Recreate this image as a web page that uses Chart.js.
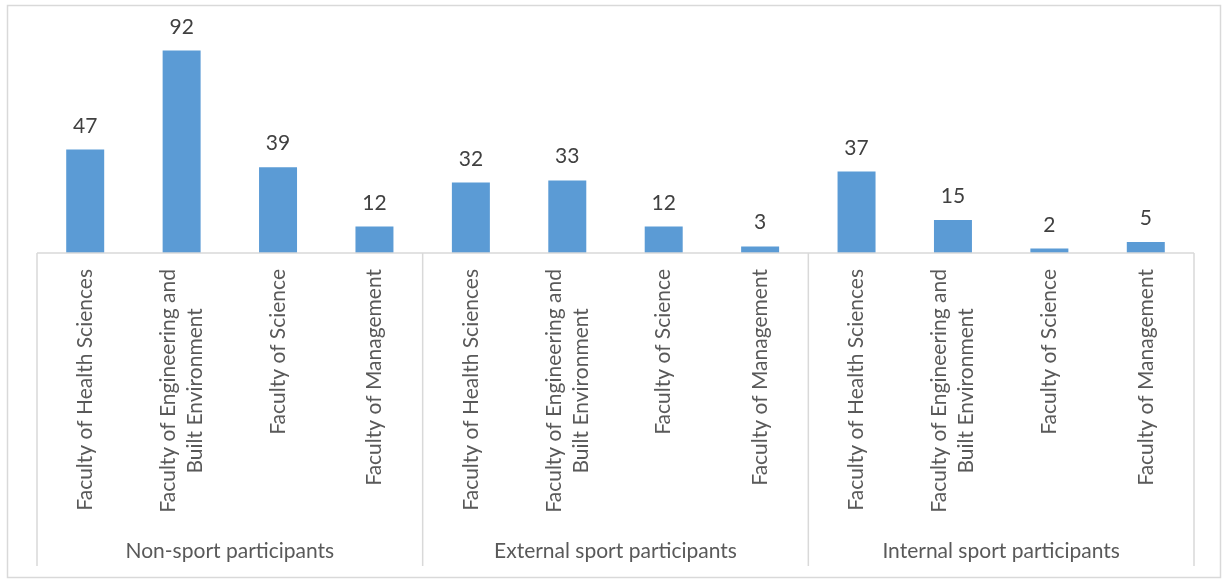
<!DOCTYPE html>
<html>
<head>
<meta charset="utf-8">
<script src="https://cdn.jsdelivr.net/npm/chart.js@4/dist/chart.umd.min.js"></script>
<style>
  html, body { margin: 0; padding: 0; background: #fff; }
  canvas { display: block; }
</style>
</head>
<body>
<canvas id="myChart" width="1225" height="579"></canvas>
<script>
const groups = ['Non-sport participants', 'External sport participants', 'Internal sport participants']
const faculties = [
  ['Faculty of Health Sciences'],
  ['Faculty of Engineering and', 'Built Environment'],
  ['Faculty of Science'],
  ['Faculty of Management']
]
const nonSport = [47, 92, 39, 12]
const externalSport = [32, 33, 12, 3]
const internalSport = [37, 15, 2, 5]

const groupValues = [nonSport, externalSport, internalSport]
const labels = []
const values = []
groupValues.forEach(vals => {
  vals.forEach((v, i) => {
    labels.push(faculties[i])
    values.push(v)
  })
})

const FONT = 'Lato, "Noto Sans", sans-serif'
const TEXT_SIZE = 21

// axis line, group separators, value labels and the two rows of category text
const excelAxis = {
  id: 'excelAxis',
  afterDraw(chart) {
    const { ctx, chartArea } = chart
    const x = chart.scales.x
    const meta = chart.getDatasetMeta(0)
    ctx.save()

    // chart border
    ctx.strokeStyle = '#d9d9d9'
    ctx.lineWidth = 1.5
    ctx.strokeRect(7.5, 5.5, 1213, 572)

    // category axis line + separators
    ctx.beginPath()
    ctx.moveTo(chartArea.left, chartArea.bottom)
    ctx.lineTo(chartArea.right, chartArea.bottom)
    const groupW = (chartArea.right - chartArea.left) / groups.length
    for (let g = 0; g <= groups.length; g++) {
      const gx = chartArea.left + g * groupW
      ctx.moveTo(gx, chartArea.bottom)
      ctx.lineTo(gx, 566)
    }
    ctx.stroke()

    // value labels
    ctx.font = TEXT_SIZE + 'px ' + FONT
    ctx.fillStyle = '#404040'
    ctx.textAlign = 'center'
    ctx.textBaseline = 'alphabetic'
    meta.data.forEach((bar, i) => {
      ctx.fillText(String(values[i]), bar.x, bar.y - 17)
    })

    // rotated faculty names
    ctx.fillStyle = '#595959'
    const lineH = 27
    const topY = 269
    labels.forEach((lines, i) => {
      const cx = x.getPixelForValue(i)
      const w = Math.max(...lines.map(l => ctx.measureText(l).width))
      ctx.save()
      ctx.translate(cx, topY + w / 2)
      ctx.rotate(-Math.PI / 2)
      ctx.textAlign = 'center'
      ctx.textBaseline = 'middle'
      lines.forEach((l, j) => {
        ctx.fillText(l, 0, (j - (lines.length - 1) / 2) * lineH)
      })
      ctx.restore()
    })

    // group names
    ctx.textAlign = 'center'
    ctx.textBaseline = 'middle'
    groups.forEach((g, k) => {
      ctx.fillText(g, chartArea.left + (k + 0.5) * groupW, 551)
    })

    ctx.restore()
  }
}

let ctx = document.querySelector('#myChart').getContext('2d')
let myChart = new Chart(ctx, {
  type: 'bar',
  data: {
    labels: labels,
    datasets: [{
      data: values,
      backgroundColor: '#5b9bd5',
      borderWidth: 0,
      categoryPercentage: 1,
      barPercentage: 0.394
    }]
  },
  options: {
    responsive: false,
    animation: false,
    layout: { padding: { left: 37, right: 31, top: 33, bottom: 326 } },
    plugins: { legend: { display: false }, tooltip: { enabled: false } },
    scales: {
      x: { display: false },
      y: { display: false, min: 0, max: 100 }
    }
  },
  plugins: [excelAxis]
})
</script>
</body>
</html>
